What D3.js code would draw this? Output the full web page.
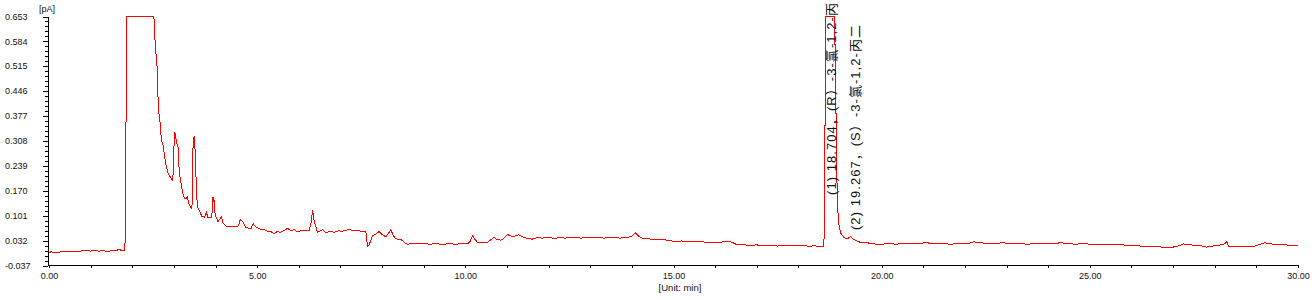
<!DOCTYPE html>
<html><head><meta charset="utf-8">
<script src="https://cdn.jsdelivr.net/npm/d3@7"></script>
<style>html,body{margin:0;padding:0;background:#fff;}svg{display:block;}</style>
</head><body>
<svg id="c" width="1316" height="300"></svg>
<script>
// ---- data ----
const yTickLabels = ["0.653","0.584","0.515","0.446","0.377","0.308","0.239","0.170","0.101","0.032","-0.037"];
const xTickLabels = ["0.00","5.00","10.00","15.00","20.00","25.00","30.00"];
const yUnit = "[pA]";
const xUnit = "[Unit: min]";
const peakTimes = [18.704, 19.267];
const peakLabels = ["(1) 18.704，(R）-3-氯-1,2-丙", "(2) 19.267，(S）-3-氯-1,2-丙二"];

const traceStart = [[0.00,-0.001],[0.05,0.001],[0.10,-0.001],[0.20,0.000],[0.35,0.001],[0.50,0.001],[0.60,0.003],[0.75,0.003],[0.90,0.004],[1.00,0.003],[1.10,0.004],[1.20,0.003],[1.30,0.004],[1.40,0.002],[1.50,0.004],[1.60,0.005],[1.70,0.007],[1.75,0.004],[1.82,0.005],[1.84,0.073],[1.86,0.653]];
const traceSolvent = [[2.52,0.653],[2.55,0.579],[2.60,0.509],[2.62,0.421],[2.64,0.385],[2.67,0.358],[2.70,0.311],[2.74,0.297],[2.78,0.261],[2.82,0.237],[2.86,0.219],[2.93,0.205],[2.96,0.200],[2.99,0.223],[3.01,0.334],[3.02,0.320],[3.03,0.329],[3.06,0.306],[3.10,0.292],[3.13,0.219],[3.17,0.191],[3.21,0.164],[3.25,0.150],[3.29,0.148],[3.32,0.153],[3.34,0.145],[3.37,0.131],[3.42,0.122],[3.45,0.140],[3.46,0.302],[3.49,0.322],[3.52,0.260],[3.54,0.164],[3.57,0.125],[3.62,0.113],[3.67,0.099],[3.74,0.097],[3.78,0.110],[3.82,0.095],[3.90,0.095],[3.93,0.120],[3.94,0.154],[3.96,0.138],[3.97,0.145],[3.99,0.104],[4.06,0.085],[4.14,0.097],[4.18,0.081],[4.27,0.071],[4.40,0.071],[4.53,0.071],[4.57,0.080],[4.59,0.090],[4.65,0.085],[4.73,0.069],[4.80,0.066],[4.85,0.064],[4.90,0.079],[4.95,0.072],[5.01,0.067]];
const traceMiddle = [[5.10,0.062],[5.17,0.062],[5.25,0.058],[5.33,0.057],[5.41,0.051],[5.49,0.058],[5.55,0.054],[5.65,0.060],[5.73,0.066],[5.80,0.060],[5.90,0.062],[5.97,0.056],[6.05,0.060],[6.15,0.059],[6.25,0.060],[6.30,0.085],[6.33,0.118],[6.35,0.100],[6.37,0.085],[6.45,0.055],[6.50,0.058],[6.57,0.062],[6.65,0.054],[6.75,0.058],[6.85,0.055],[6.95,0.059],[7.05,0.058],[7.15,0.061],[7.21,0.064],[7.30,0.059],[7.40,0.060],[7.50,0.058],[7.61,0.058],[7.65,0.016],[7.69,0.020],[7.77,0.046],[7.85,0.050],[7.93,0.057],[8.00,0.049],[8.09,0.042],[8.15,0.052],[8.21,0.062],[8.27,0.046],[8.33,0.037],[8.45,0.035],[8.55,0.026],[8.61,0.021],[8.70,0.024],[8.85,0.023],[9.00,0.024],[9.15,0.022],[9.30,0.024],[9.45,0.021],[9.60,0.024],[9.75,0.022],[9.90,0.023],[10.05,0.023],[10.12,0.030],[10.17,0.046],[10.22,0.037],[10.29,0.027],[10.40,0.026],[10.53,0.027],[10.62,0.035],[10.69,0.041],[10.75,0.036],[10.85,0.033],[10.92,0.038],[11.01,0.049],[11.08,0.045],[11.17,0.044],[11.23,0.047],[11.29,0.048],[11.38,0.042],[11.49,0.038],[11.60,0.036],[11.72,0.040],[11.85,0.039],[11.97,0.042],[12.05,0.040],[12.13,0.038],[12.25,0.040],[12.40,0.039],[12.55,0.041],[12.77,0.039],[12.95,0.040],[13.15,0.040],[13.35,0.039],[13.57,0.042],[13.70,0.039],[13.89,0.040],[14.00,0.045],[14.09,0.053],[14.18,0.043],[14.29,0.037],[14.40,0.037],[14.55,0.035],[14.65,0.036],[14.77,0.035],[14.85,0.033],[15.01,0.030],[15.20,0.031],[15.40,0.029],[15.60,0.030],[15.80,0.027],[15.97,0.026],[16.15,0.028],[16.33,0.030],[16.45,0.025],[16.53,0.020],[16.70,0.020],[16.85,0.019],[17.00,0.020],[17.17,0.018],[17.35,0.019],[17.50,0.017],[17.65,0.019],[17.80,0.017],[17.97,0.018],[18.10,0.019],[18.25,0.016],[18.40,0.018],[18.50,0.015],[18.61,0.016],[18.63,0.085],[18.65,0.653]];
const traceMainPeak = [[18.87,0.653],[18.93,0.173],[18.96,0.084],[19.01,0.054],[19.10,0.040],[19.18,0.037],[19.25,0.043],[19.33,0.035],[19.49,0.027],[19.65,0.026],[19.80,0.023],[19.97,0.021]];
const traceEnd = [[20.15,0.024],[20.35,0.022],[20.55,0.025],[20.75,0.023],[20.95,0.025],[21.09,0.026],[21.25,0.023],[21.45,0.024],[21.65,0.022],[21.85,0.024],[22.05,0.023],[22.21,0.029],[22.30,0.026],[22.50,0.025],[22.70,0.024],[22.93,0.026],[23.10,0.023],[23.30,0.024],[23.50,0.022],[23.70,0.024],[23.90,0.025],[24.10,0.023],[24.29,0.026],[24.45,0.024],[24.65,0.022],[24.85,0.024],[25.09,0.021],[25.30,0.022],[25.50,0.020],[25.70,0.021],[25.90,0.019],[26.10,0.018],[26.30,0.016],[26.45,0.015],[26.60,0.016],[26.85,0.012],[27.00,0.014],[27.15,0.018],[27.25,0.023],[27.40,0.020],[27.60,0.019],[27.81,0.014],[27.95,0.017],[28.10,0.019],[28.25,0.023],[28.29,0.030],[28.33,0.016],[28.50,0.017],[28.70,0.015],[28.93,0.016],[29.05,0.020],[29.21,0.026],[29.35,0.023],[29.50,0.021],[29.70,0.020],[29.85,0.019],[30.00,0.018]];

// ---- drawing ----
const trace = [].concat(traceStart, traceSolvent, traceMiddle, traceMainPeak, traceEnd);
const svg = d3.select("#c");
svg.append("rect").attr("width",1316).attr("height",300).attr("fill","#fff");
const font = "'Liberation Sans', Arial, sans-serif";
const x = d3.scaleLinear().domain([0,30]).range([49,1298]);
const y = d3.scaleLinear().domain([-0.037,0.653]).range([265.5,16.5]);

// y axis
const yMajor = yTickLabels.map(Number);
const yMinor = [];
for (let i = 0; i < yMajor.length - 1; i++) {
  for (let k = 1; k < 5; k++) yMinor.push(yMajor[i] + (yMajor[i+1]-yMajor[i])*k/5);
}
const gy = svg.append("g").attr("transform","translate(48,0)");
gy.call(d3.axisLeft(y).tickValues(yMajor).tickSize(5).tickFormat(""))
  .call(g=>g.select(".domain").attr("d", `M0.5,${y(0.653)}V${y(-0.037)+0.5}`));
gy.append("g").call(d3.axisLeft(y).tickValues(yMinor).tickSize(3).tickFormat(""))
  .call(g=>g.select(".domain").remove());
gy.selectAll("line,path").attr("stroke","#000").attr("shape-rendering","crispEdges");
svg.append("g").selectAll("text").data(yTickLabels).join("text")
  .attr("x",5).attr("y",d=>y(+d)).attr("dy","0.35em")
  .attr("font-family",font).attr("font-size",9).attr("fill","#111").text(d=>d);

// x axis
const gx = svg.append("g").attr("transform","translate(0,265)");
gx.call(d3.axisBottom(x).tickValues(d3.range(0,31,1)).tickSize(3).tickFormat(""))
  .call(g=>g.select(".domain").attr("d", `M${x(0)-1},0.5H${x(30)+0.5}`));
gx.selectAll("line,path").attr("stroke","#000").attr("shape-rendering","crispEdges");
svg.append("g").selectAll("text").data(xTickLabels).join("text")
  .attr("x",d=>x(+d)+0.5).attr("y",279).attr("text-anchor","middle")
  .attr("font-family",font).attr("font-size",9).attr("fill","#111").text(d=>d);

svg.append("text").attr("x",39).attr("y",12).attr("font-family",font).attr("font-size",9).attr("fill","#111").text(yUnit);
svg.append("text").attr("x",680).attr("y",291).attr("text-anchor","middle").attr("font-family",font).attr("font-size",9.5).attr("fill","#111").text(xUnit);

// trace
const line = d3.line().x(d=>x(d[0])).y(d=>y(d[1]));
svg.append("path").datum(trace).attr("d",line).attr("fill","none")
  .attr("stroke","#ff0000").attr("stroke-width",1).attr("shape-rendering","crispEdges");

// peak labels
const labelStartY = [195, 230];
const labelLength = [192, 205];
svg.append("g").selectAll("text").data(peakLabels).join("text")
  .attr("transform",(d,i)=>`translate(${x(peakTimes[i])+8.5},${labelStartY[i]}) rotate(-90)`)
  .attr("font-family","'Liberation Sans', 'Noto Sans CJK SC', sans-serif")
  .attr("font-size",13).attr("fill","#111")
  .attr("textLength",(d,i)=>labelLength[i]).attr("lengthAdjust","spacing")
  .text(d=>d);
</script>
</body></html>
